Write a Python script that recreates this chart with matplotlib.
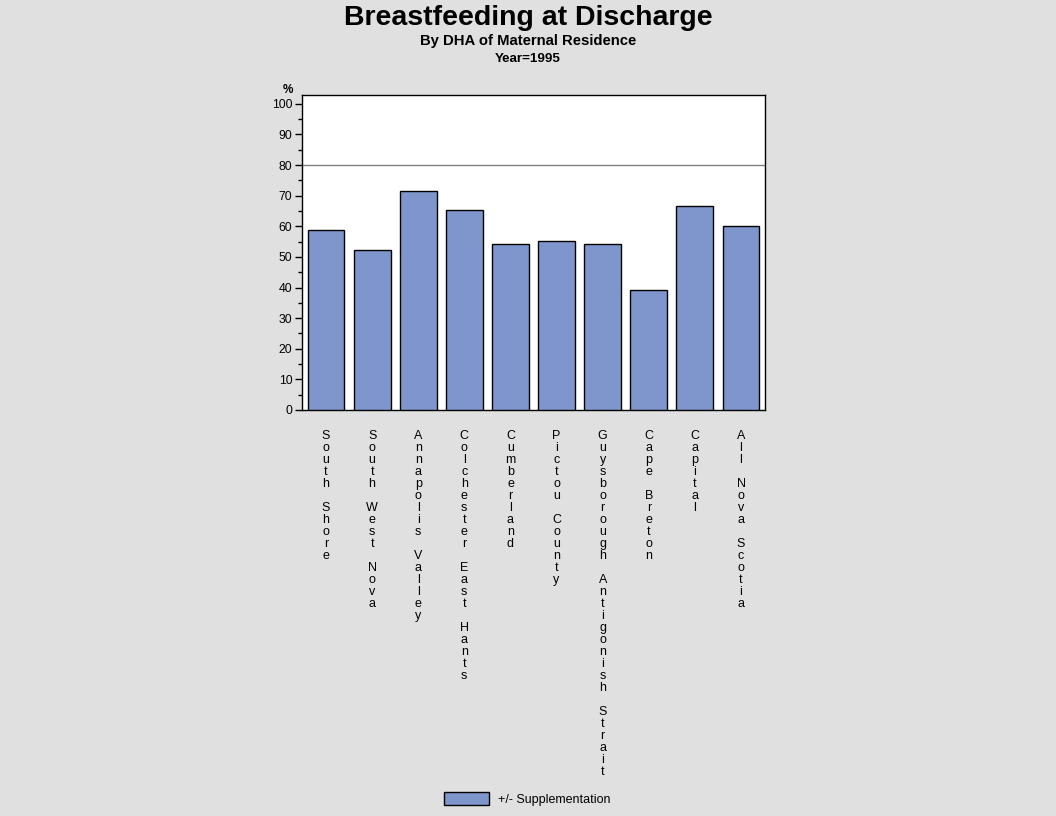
import matplotlib
matplotlib.use("Agg")
import matplotlib.pyplot as plt
from matplotlib.patches import Rectangle
from matplotlib.ticker import MultipleLocator

plt.rcParams['font.family'] = ['Liberation Sans', 'DejaVu Sans']

categories = ["South Shore", "South West Nova", "Annapolis Valley", "Colchester East Hants",
              "Cumberland", "Pictou County", "Guysborough Antigonish Strait", "Cape Breton",
              "Capital", "All Nova Scotia"]
values = [58.7, 52.2, 71.5, 65.3, 54.1, 55.1, 54.1, 39.1, 66.6, 60.0]
target = 80
series_name = "+/- Supplementation"
yticks = list(range(0, 101, 10))

bg = "#e0e0e0"
bar_color = "#7f96cc"

fig = plt.figure(figsize=(10.56, 8.16), dpi=100, facecolor=bg)
ax = fig.add_axes([302/1056, 1 - 410/816, (765-302)/1056, (410-95)/816])
ax.set_facecolor("white")

x = list(range(len(categories)))
ax.bar(x, values, width=0.8, color=bar_color, edgecolor="black", linewidth=1.0, zorder=3)
ax.axhline(target, color="#808080", linewidth=1.0, zorder=2)

ax.set_xlim(-0.52, len(categories) - 0.48)
ax.set_ylim(0, 102.9)
ax.set_yticks(yticks)
ax.yaxis.set_minor_locator(MultipleLocator(5))
ax.tick_params(axis="y", which="major", direction="out", length=5, width=1, labelsize=8.8, pad=2)
ax.tick_params(axis="y", which="minor", direction="out", length=3, width=1)
ax.set_xticks([])
for s in ax.spines.values():
    s.set_linewidth(1.0)

# stacked vertical category labels
for i, name in enumerate(categories):
    for j, ch in enumerate(name):
        if ch == " ":
            continue
        ax.annotate(ch, xy=(i, 0), xycoords=("data", "axes fraction"),
                    xytext=(0, -26 - 12 * j), textcoords="offset pixels",
                    ha="center", va="center", fontsize=9, annotation_clip=False)

fig.text(288/1056, 1 - 90/816, "%", ha="center", va="center", fontsize=8.5, fontweight="bold")

fig.text(0.5, 1 - 18/816, "Breastfeeding at Discharge", ha="center", va="center",
         fontsize=20.5, fontweight="bold")
fig.text(0.5, 1 - 41.5/816, "By DHA of Maternal Residence", ha="center", va="center",
         fontsize=10.7, fontweight="bold")
fig.text(0.5, 1 - 58.5/816, "Year=1995", ha="center", va="center",
         fontsize=9.6, fontweight="bold")

# legend
fig.patches.append(Rectangle((444/1056, 1 - 805/816), 45/1056, 13/816,
                             transform=fig.transFigure, facecolor=bar_color,
                             edgecolor="black", linewidth=1.0))
fig.text(498/1056, 1 - 800.5/816, series_name, ha="left", va="center", fontsize=9)

fig.savefig("out.png", dpi=100, facecolor=bg)
